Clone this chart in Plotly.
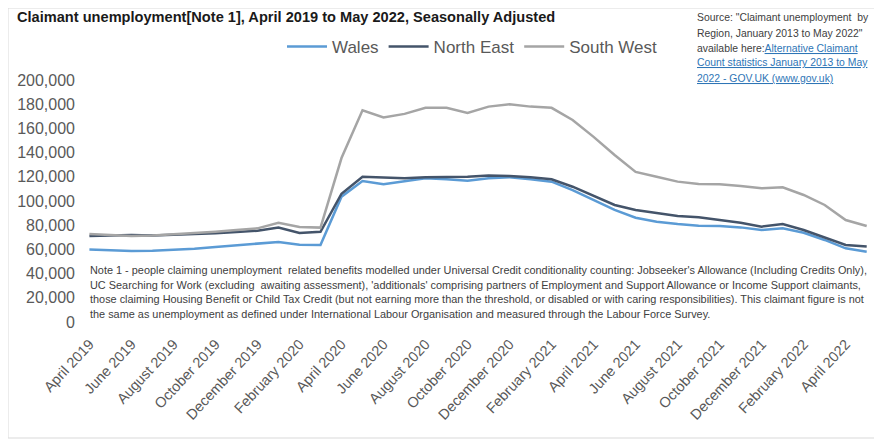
import plotly.graph_objects as go

months = [
    "April 2019", "May 2019", "June 2019", "July 2019", "August 2019", "September 2019",
    "October 2019", "November 2019", "December 2019", "January 2020", "February 2020",
    "March 2020", "April 2020", "May 2020", "June 2020", "July 2020", "August 2020",
    "September 2020", "October 2020", "November 2020", "December 2020", "January 2021",
    "February 2021", "March 2021", "April 2021", "May 2021", "June 2021", "July 2021",
    "August 2021", "September 2021", "October 2021", "November 2021", "December 2021",
    "January 2022", "February 2022", "March 2022", "April 2022", "May 2022"
]

wales = [
    60000, 59300, 58700, 58800, 59500, 60500, 62000, 63200, 64500, 66200, 63800,
    63600, 103600, 116500, 113800, 116500, 118700, 118000, 116800, 118700, 119600,
    118000, 116000, 109000, 100800, 92600, 86200, 82900, 81000, 79600, 79300,
    78200, 76000, 77400, 73800, 67800, 60900, 58100
]

north_east = [
    71000, 71500, 72000, 71500, 72000, 72500, 73300, 74300, 75500, 78000, 73500,
    74600, 106000, 120000, 119600, 118700, 119600, 119600, 120000, 121000, 120700,
    119600, 118000, 111800, 104000, 96700, 92600, 89800, 87600, 86500, 84300,
    82000, 78800, 81000, 76000, 70000, 63600, 62300
]

south_west = [
    72700, 72000, 71000, 71500, 72400, 73500, 74600, 76000, 77400, 82000, 78500,
    78000, 135500, 175000, 169000, 172000, 177000, 177000, 172700, 178000, 180000,
    178000, 177000, 167000, 153000, 138000, 124000, 120000, 116000, 114000, 113800,
    112400, 110500, 111300, 105000, 96700, 84300, 79300
]

y_ticks = list(range(0, 200001, 20000))

source_lines = [
    'Source: "Claimant unemployment  by',
    'Region, January 2013 to May 2022"',
    "available here:<span style='color:#2e75b6'><u>Alternative Claimant</u></span>",
    "<span style='color:#2e75b6'><u>Count statistics January 2013 to May</u></span>",
    "<span style='color:#2e75b6'><u>2022 - GOV.UK (www.gov.uk)</u></span>",
]

note_lines = [
    "Note 1 - people claiming unemployment  related benefits modelled under Universal Credit conditionality counting: Jobseeker's Allowance (Including Credits Only),",
    "UC Searching for Work (excluding  awaiting assessment), 'additionals' comprising partners of Employment and Support Allowance or Income Support claimants,",
    "those claiming Housing Benefit or Child Tax Credit (but not earning more than the threshold, or disabled or with caring responsibilities). This claimant figure is not",
    "the same as unemployment as defined under International Labour Organisation and measured through the Labour Force Survey.",
]

# the page body keeps its default 8px margin, so the figure starts at (8, 8)
OFF = 8
W, H = 882 - OFF, 439 - OFF
ML, MR, MT, MB = 81 - OFF, 9, 80 - OFF, 117


def px(x):
    return (x - OFF - ML) / (W - ML - MR)


def py(y):
    return (H - MB - (y - OFF)) / (H - MT - MB)


fig = go.Figure()

fig.add_trace(go.Scatter(x=list(range(len(months))), y=wales, mode="lines",
                         name="Wales", line=dict(color="#5b9bd5", width=2.5)))
fig.add_trace(go.Scatter(x=list(range(len(months))), y=north_east, mode="lines",
                         name="North East", line=dict(color="#44546a", width=2.5)))
fig.add_trace(go.Scatter(x=list(range(len(months))), y=south_west, mode="lines",
                         name="South West", line=dict(color="#a5a5a5", width=2.5)))

annotations = []
for i, line in enumerate(source_lines):
    annotations.append(dict(
        text=line, xref="paper", yref="paper", x=px(695), y=py(18 + i * 15),
        xanchor="left", yanchor="middle", showarrow=False,
        font=dict(family="Liberation Sans", size=10.4, color="#404040")
    ))
for i, line in enumerate(note_lines):
    annotations.append(dict(
        text=line, xref="paper", yref="paper", x=px(88), y=py(270 + i * 14.7),
        xanchor="left", yanchor="middle", showarrow=False,
        font=dict(family="Liberation Sans", size=10.9, color="#404040")
    ))

fig.update_layout(
    width=W,
    height=H,
    paper_bgcolor="white",
    plot_bgcolor="white",
    margin=dict(l=ML, r=MR, t=MT, b=MB, autoexpand=False),
    title=dict(
        text="<b>Claimant unemployment[Note 1], April 2019 to May 2022, Seasonally Adjusted</b>",
        x=(17 - OFF) / W, xanchor="left", y=1 - (17 - OFF) / H, yanchor="middle",
        font=dict(family="Liberation Sans", size=14.6, color="#1a1a1a")
    ),
    showlegend=True,
    legend=dict(
        orientation="h", x=px(282), xanchor="left", y=py(47), yanchor="middle",
        font=dict(family="Liberation Sans", size=17, color="#595959"),
        bgcolor="rgba(0,0,0,0)", itemwidth=40, tracegroupgap=0
    ),
    xaxis=dict(
        range=[-0.4, len(months) - 0.7],
        tickmode="array",
        tickvals=list(range(0, len(months), 2)),
        ticktext=months[::2],
        tickangle=-47,
        showgrid=False, zeroline=False, showline=False,
        ticks="", ticklabelstandoff=10,
        tickfont=dict(family="Liberation Sans", size=14.5, color="#595959")
    ),
    yaxis=dict(
        range=[0, 200000],
        tickmode="array",
        tickvals=y_ticks,
        ticktext=[f"{v:,}" for v in y_ticks],
        showgrid=False, zeroline=False, showline=False,
        ticks="", ticklabelstandoff=5,
        tickfont=dict(family="Liberation Sans", size=16, color="#595959")
    ),
    annotations=annotations,
    shapes=[dict(
        type="rect", xref="paper", yref="paper",
        x0=px(8), x1=px(881), y0=py(438), y1=py(8),
        line=dict(color="#d9d9d9", width=1), fillcolor="rgba(0,0,0,0)", layer="below"
    )]
)

fig.write_html("out.html")
